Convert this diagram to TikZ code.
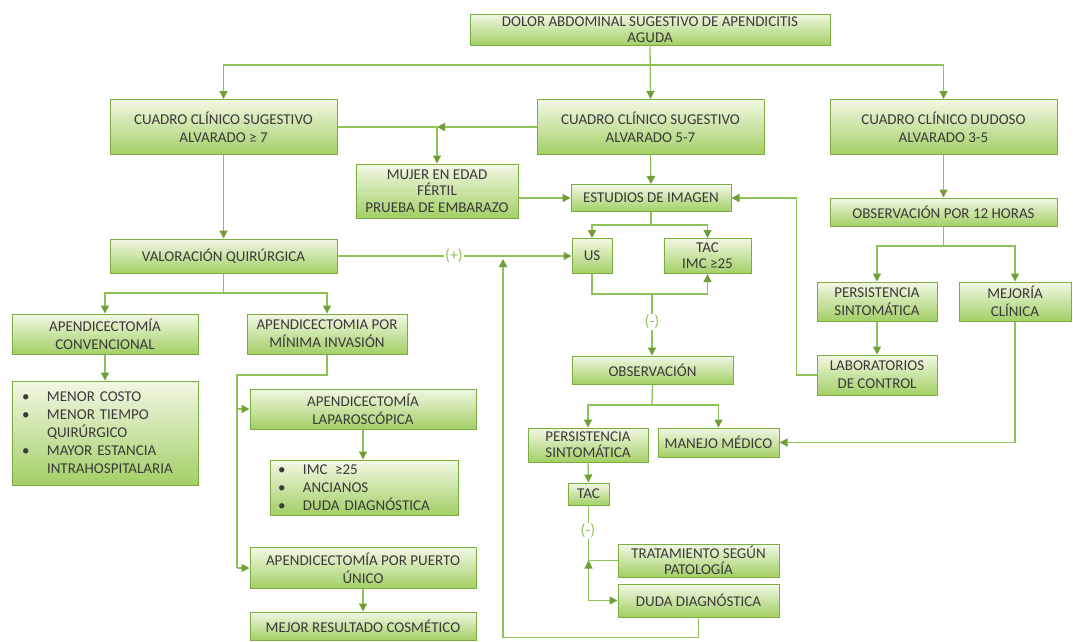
\documentclass[tikz,border=0pt]{standalone}
\usepackage{fontspec}
\setmainfont{Carlito}
\usepackage{tikz}
\usetikzlibrary{arrows.meta}

\definecolor{bordeverde}{HTML}{7BAE3F}
\definecolor{verdeclaro}{HTML}{F1F8E4}
\definecolor{verdefuerte}{HTML}{A3CF66}
\definecolor{lineaverde}{HTML}{8EC158}
\definecolor{puntaverde}{HTML}{6F9F36}
\definecolor{textogris}{HTML}{3A3A3A}

\begin{document}
\begin{tikzpicture}[x=1pt, y=-1pt]
    % --- DEFINE STYLES ---
    % Style for every green box
    \tikzstyle{caja} = [draw=bordeverde, line width=1pt, top color=verdeclaro, bottom color=verdefuerte, align=center, inner sep=1pt, text=textogris, font=\fontsize{15}{18}\selectfont]
    % Style for plain connectors
    \tikzstyle{linea} = [lineaverde, line width=1.3pt]
    % Style for connectors with a tip
    \tikzstyle{flecha} = [linea, -{Triangle[length=8pt, width=8pt, color=puntaverde]}]
    % Style for the (+) and (-) marks
    \tikzstyle{signo} = [fill=white, inner sep=1pt, text=lineaverde, font=\fontsize{16}{18}\selectfont]
    \def\vin{\makebox[25pt][l]{\textbullet}}
    \def\sang{\hspace*{25pt}}

    \fill[white] (0,0) rectangle (1073,641);
    \useasboundingbox (0,0) rectangle (1073,641);

    % --- TOP LEVEL ---
    \node[caja, minimum width=360, minimum height=31, font=\fontsize{15}{16}\selectfont] (dolor) at (650,29.5) {DOLOR ABDOMINAL SUGESTIVO DE APENDICITIS\\AGUDA};
    \node[caja, minimum width=227, minimum height=55] (cc_siete) at (223.5,127) {CUADRO CLÍNICO SUGESTIVO\\ALVARADO ≥ 7};
    \node[caja, minimum width=227, minimum height=55] (cc_cinco) at (650.5,127) {CUADRO CLÍNICO SUGESTIVO\\ALVARADO 5-7};
    \node[caja, minimum width=227, minimum height=55] (cc_dudoso) at (943.5,127) {CUADRO CLÍNICO DUDOSO\\ALVARADO 3-5};

    % --- MIDDLE COLUMN ---
    \node[caja, minimum width=162, minimum height=54, font=\fontsize{15}{16.5}\selectfont] (mujer) at (437,191) {MUJER EN EDAD\\FÉRTIL\\PRUEBA DE EMBARAZO};
    \node[caja, minimum width=160, minimum height=27] (estudios) at (651,198) {ESTUDIOS DE IMAGEN};
    \node[caja, minimum width=40, minimum height=35] (us) at (592,256) {US};
    \node[caja, minimum width=87, minimum height=35, font=\fontsize{15}{16}\selectfont] (tac_imc) at (707.5,256) {TAC\\IMC ≥25};
    \node[caja, minimum width=161, minimum height=28] (obs) at (652.5,370) {OBSERVACIÓN};
    \node[caja, minimum width=120, minimum height=34, font=\fontsize{15}{16}\selectfont] (pers_izq) at (588,445) {PERSISTENCIA\\SINTOMÁTICA};
    \node[caja, minimum width=121, minimum height=29] (manejo) at (718.5,442.5) {MANEJO MÉDICO};
    \node[caja, minimum width=41, minimum height=22] (tac) at (588.5,494) {TAC};
    \node[caja, minimum width=161, minimum height=33, font=\fontsize{15}{16}\selectfont] (trat) at (698.5,560.5) {TRATAMIENTO SEGÚN\\PATOLOGÍA};
    \node[caja, minimum width=161, minimum height=33] (duda) at (698.5,600.5) {DUDA DIAGNÓSTICA};

    % --- RIGHT COLUMN ---
    \node[caja, minimum width=227, minimum height=28] (obs_doce) at (943.5,212) {OBSERVACIÓN POR 12 HORAS};
    \node[caja, minimum width=120, minimum height=39] (pers_der) at (877,301.5) {PERSISTENCIA\\SINTOMÁTICA};
    \node[caja, minimum width=112, minimum height=39] (mejoria) at (1015,301.5) {MEJORÍA\\CLÍNICA};
    \node[caja, minimum width=120, minimum height=40] (lab) at (877,375) {LABORATORIOS\\DE CONTROL};

    % --- LEFT COLUMN ---
    \node[caja, minimum width=227, minimum height=34] (valor) at (223.5,256) {VALORACIÓN QUIRÚRGICA};
    \node[caja, minimum width=186, minimum height=40] (ap_conv) at (105,334) {APENDICECTOMÍA\\CONVENCIONAL};
    \node[caja, minimum width=160, minimum height=40] (ap_min) at (327,334) {APENDICECTOMIA POR\\MÍNIMA INVASIÓN};
    \node[caja, minimum width=186, minimum height=104, text width=166, inner xsep=10pt, align=left] (ventajas) at (105,433)
        {\vin MENOR COSTO\\\vin MENOR TIEMPO\\\sang QUIRÚRGICO\\\vin MAYOR ESTANCIA\\\sang INTRAHOSPITALARIA};
    \node[caja, minimum width=226, minimum height=40] (lap) at (363,409) {APENDICECTOMÍA\\LAPAROSCÓPICA};
    \node[caja, minimum width=188, minimum height=55, text width=172, inner xsep=8pt, align=left] (indic) at (364,487.5)
        {\vin IMC \,≥25\\\vin ANCIANOS\\\vin DUDA DIAGNÓSTICA};
    \node[caja, minimum width=226, minimum height=41] (puerto) at (363,568) {APENDICECTOMÍA POR PUERTO\\ÚNICO};
    \node[caja, minimum width=226, minimum height=28] (cosmetico) at (363,626) {MEJOR RESULTADO COSMÉTICO};

    % --- JUNCTIONS ---
    \coordinate (bar_top) at (650,65);
    \coordinate (cruce_mujer) at (437,127);
    \coordinate (bar_est) at (651,225);
    \coordinate (bar_us) at (652,294);
    \coordinate (bar_obs) at (652,405);
    \coordinate (bar_doce) at (943.5,246);
    \coordinate (bar_val) at (223.5,293);
    \coordinate (bajada_min) at (237,375);
    \coordinate (cruce_trat) at (588.5,560.5);
    \coordinate (retorno) at (503,259);

    % --- CONNECTORS ---
    \draw[flecha] (dolor.south) -- (cc_cinco.north);
    \foreach \t in {cc_siete,cc_dudoso}
        \draw[flecha] (bar_top) -| (\t.north);

    \draw[flecha] (cc_cinco.west) -- (cruce_mujer);
    \draw[linea] (cruce_mujer) -- (cc_siete.east);
    \draw[flecha] (cruce_mujer) -- (mujer.north);
    \draw[flecha] (cc_cinco.south) -- (estudios.north);
    \draw[flecha] (mujer.east |- estudios.west) -- (estudios.west);
    \draw[flecha] (lab.west) -- ++(-20,0) |- (estudios.east);

    \draw[linea] (estudios.south) -- (bar_est);
    \foreach \t in {us,tac_imc}
        \draw[flecha] (bar_est) -| (\t.north);
    \draw[flecha] (us.south) |- (bar_us) -| (tac_imc.south);
    \draw[flecha] (bar_us) -- (bar_us |- obs.north);

    \draw[linea] (obs.south) -- (bar_obs);
    \foreach \t in {pers_izq,manejo}
        \draw[flecha] (bar_obs) -| (\t.north);
    \draw[flecha] (pers_izq.south) -- (tac.north);
    \draw[flecha] (tac.south) |- (duda.west);
    \draw[linea] (trat.west) -- (cruce_trat);
    \draw[flecha] (cruce_trat |- duda.north) -- (cruce_trat);
    \draw[flecha] (duda.south) -- ++(0,20) -| (retorno);

    \draw[flecha] (cc_dudoso.south) -- (obs_doce.north);
    \draw[linea] (obs_doce.south) -- (bar_doce);
    \foreach \t in {pers_der,mejoria}
        \draw[flecha] (bar_doce) -| (\t.north);
    \draw[flecha] (pers_der.south) -- (lab.north);
    \draw[flecha] (mejoria.south) |- (manejo.east);

    \draw[flecha] (cc_siete.south) -- (valor.north);
    \draw[flecha] (valor.east) -- (us.west);
    \draw[linea] (valor.south) -- (bar_val);
    \foreach \t in {ap_conv,ap_min}
        \draw[flecha] (bar_val) -| (\t.north);
    \draw[flecha] (ap_conv.south) -- (ventajas.north);
    \draw[linea] (ap_min.south) |- (bajada_min) -- (bajada_min |- puerto.west);
    \draw[flecha] (bajada_min |- lap.west) -- (lap.west);
    \draw[flecha] (bajada_min |- puerto.west) -- (puerto.west);
    \draw[flecha] (lap.south) -- (lap.south |- indic.north);
    \draw[flecha] (puerto.south) -- (cosmetico.north);

    % Marks on the lines
    \node[signo] (mas) at (454,256) {(+)};
    \node[signo] (menos_obs) at (652,322) {(-)};
    \node[signo] (menos_tac) at (588,531) {(-)};
\end{tikzpicture}
\end{document}
